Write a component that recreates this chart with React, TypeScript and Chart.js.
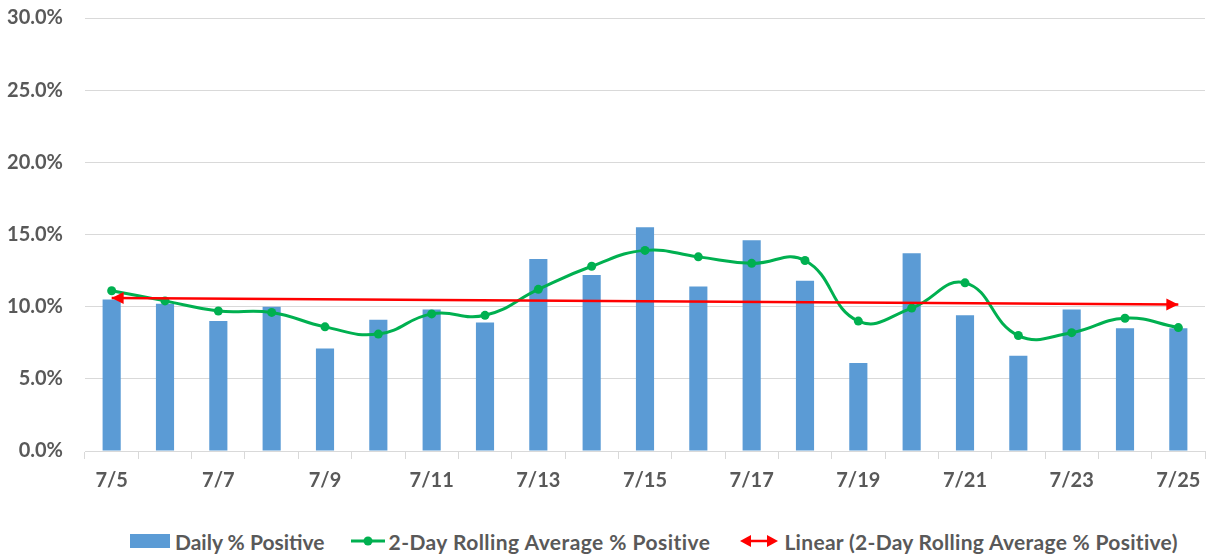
import React, { useEffect, useRef } from "react";
import { Chart, registerables } from "chart.js";

Chart.register(...registerables);

const categories = ["7/5","7/6","7/7","7/8","7/9","7/10","7/11","7/12","7/13","7/14","7/15","7/16","7/17","7/18","7/19","7/20","7/21","7/22","7/23","7/24","7/25"];
const dailyPositive = [10.5,10.2,9.0,10.0,7.1,9.1,9.8,8.9,13.3,12.2,15.5,11.4,14.6,11.8,6.1,13.7,9.4,6.6,9.8,8.5,8.5];
const rollingAverage = [11.1,10.4,9.7,9.6,8.6,8.1,9.5,9.4,11.2,12.8,13.9,13.45,13.0,13.2,9.0,9.9,11.65,8.0,8.2,9.2,8.55];
const trendStart = 10.6;
const trendEnd = 10.15;
const yTicks = [0, 5, 10, 15, 20, 25, 30];

const FONT = "Lato, 'Open Sans', sans-serif";
const TEXT = "#595959";
const BLUE = "#5B9BD5";
const GREEN = "#00B050";
const RED = "#FF0000";

const arrowPlugin = {
  id: "trendArrows",
  afterDatasetsDraw(chart: any) {
    const meta = chart.getDatasetMeta(2);
    if (!meta || !meta.data.length) return;
    const pts = meta.data;
    const a = pts[0];
    const b = pts[pts.length - 1];
    const ctx = chart.ctx;
    const draw = (tip: any, from: any) => {
      const ang = Math.atan2(tip.y - from.y, tip.x - from.x);
      const len = 12, half = 6;
      ctx.save();
      ctx.fillStyle = RED;
      ctx.translate(tip.x, tip.y);
      ctx.rotate(ang);
      ctx.beginPath();
      ctx.moveTo(0, 0);
      ctx.lineTo(-len, -half);
      ctx.lineTo(-len, half);
      ctx.closePath();
      ctx.fill();
      ctx.restore();
    };
    draw(a, b);
    draw(b, a);
  },
};

export default function App() {
  const ref = useRef<HTMLCanvasElement>(null);
  useEffect(() => {
    if (!ref.current) return;
    const last = categories.length - 1;
    const trendValues = categories.map((_, i) => (i === 0 ? trendStart : i === last ? trendEnd : null));
    const font = { family: FONT, size: 20, weight: "bold" as const };
    const chart = new Chart(ref.current, {
      type: "bar",
      data: {
        labels: categories,
        datasets: [
          {
            type: "bar",
            label: "Daily % Positive",
            data: dailyPositive,
            backgroundColor: BLUE,
            barPercentage: 0.34,
            categoryPercentage: 1,
            order: 3,
          },
          {
            type: "line",
            label: "2-Day Rolling Average % Positive",
            data: rollingAverage,
            borderColor: GREEN,
            backgroundColor: GREEN,
            borderWidth: 3,
            pointRadius: 4.5,
            pointBackgroundColor: GREEN,
            pointBorderWidth: 0,
            tension: 0.45,
            order: 2,
          },
          {
            type: "line",
            label: "Linear (2-Day Rolling Average % Positive)",
            data: trendValues as any,
            borderColor: RED,
            borderWidth: 2.5,
            pointRadius: 0,
            spanGaps: true,
            order: 1,
          },
        ],
      },
      options: {
        animation: false,
        responsive: false,
        maintainAspectRatio: false,
        layout: { padding: { left: 0, right: 6, top: 18, bottom: 2 } },
        plugins: { legend: { display: false }, tooltip: { enabled: false } },
        scales: {
          x: {
            grid: { offset: true, drawOnChartArea: false, drawTicks: true, tickLength: 8, color: "#D9D9D9" },
            border: { color: "#D9D9D9" },
            ticks: {
              autoSkip: false,
              maxRotation: 0,
              padding: 10,
              color: TEXT,
              font,
              callback: (_v: any, i: number) => (i % 2 === 0 ? categories[i] : ""),
            },
          },
          y: {
            min: 0,
            max: 30,
            afterBuildTicks: (scale: any) => {
              scale.ticks = yTicks.map((v) => ({ value: v }));
            },
            afterFit: (scale: any) => {
              scale.width = 85;
            },
            grid: { color: "#D9D9D9", drawTicks: true, tickLength: 22, tickColor: "rgba(0,0,0,0)" },
            border: { display: false },
            ticks: {
              padding: 0,
              color: TEXT,
              font,
              callback: (v: any) => Number(v).toFixed(1) + "%",
            },
          },
        },
      },
      plugins: [arrowPlugin],
    });
    return () => chart.destroy();
  }, []);

  const textStyle: React.CSSProperties = { fontFamily: FONT, fontWeight: 700, fontSize: 21, color: TEXT, whiteSpace: "nowrap" };
  return (
    <div style={{ position: "absolute", left: 0, top: 0, width: 1211, height: 557, background: "#fff" }}>
      <canvas ref={ref} width={1211} height={505} style={{ display: "block" }} />
      <div style={{ position: "absolute", left: 130, top: 529, display: "flex", alignItems: "center", height: 24 }}>
        <span style={{ display: "inline-block", width: 40, height: 14, background: BLUE, marginRight: 5 }} />
        <span style={textStyle}>Daily % Positive</span>
        <svg width={34} height={14} style={{ marginLeft: 26, marginRight: 4 }}>
          <line x1={0} y1={7} x2={34} y2={7} stroke={GREEN} strokeWidth={3} />
          <circle cx={17} cy={7} r={4.5} fill={GREEN} />
        </svg>
        <span style={{ ...textStyle, letterSpacing: 0.45 }}>2-Day Rolling Average % Positive</span>
        <svg width={38} height={14} style={{ marginLeft: 30, marginRight: 6 }}>
          <line x1={8} y1={7} x2={30} y2={7} stroke={RED} strokeWidth={2.5} />
          <polygon points="0,7 11,1 11,13" fill={RED} />
          <polygon points="38,7 27,1 27,13" fill={RED} />
        </svg>
        <span style={{ ...textStyle, letterSpacing: 0.3 }}>Linear (2-Day Rolling Average % Positive)</span>
      </div>
    </div>
  );
}
